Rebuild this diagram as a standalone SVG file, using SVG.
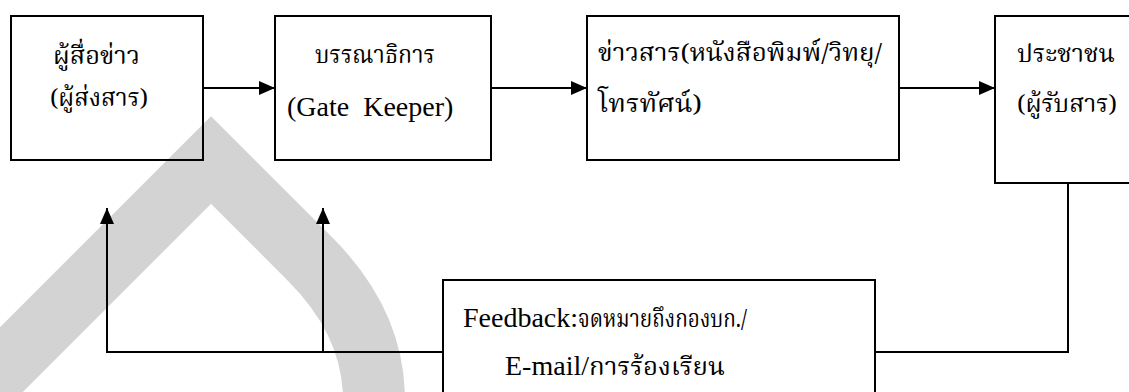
<svg xmlns="http://www.w3.org/2000/svg" width="1129" height="392" viewBox="0 0 1129 392">
<style>
.box{fill:none;stroke:#000;stroke-width:2}
.ln{fill:none;stroke:#000;stroke-width:2}
.t{font-family:"Noto Serif Thai","Noto Sans Thai","Liberation Serif",serif;font-size:24px;fill:#000}
.l{font-family:"Liberation Serif",serif;font-size:28px;fill:#000}
</style>
<defs>
<marker id="ah" markerWidth="16" markerHeight="14" refX="16" refY="7" orient="auto" markerUnits="userSpaceOnUse">
<path d="M0,0 L16,7 L0,14 Z" fill="#000"/>
</marker>
</defs>
<rect width="1129" height="392" fill="#fff"/>
<path id="watermark" d="M-40,411 L211,160 L310,259 Q374,323 374,400" fill="none" stroke="#d3d3d3" stroke-width="62" stroke-linejoin="miter" stroke-miterlimit="10"/>
<g id="connectors">
<line class="ln" x1="203" y1="88" x2="275" y2="88" marker-end="url(#ah)"/>
<line class="ln" x1="491" y1="88" x2="587" y2="88" marker-end="url(#ah)"/>
<line class="ln" x1="899" y1="88" x2="995" y2="88" marker-end="url(#ah)"/>
<polyline class="ln" points="1068,183 1068,352 875,352"/>
<polyline class="ln" points="443,352 107,352 107,208" marker-end="url(#ah)"/>
<line class="ln" x1="323" y1="352" x2="323" y2="208" marker-end="url(#ah)"/>
</g>
<g id="n1">
<rect class="box" x="11" y="16" width="192" height="144"/>
<text class="t" x="53" y="64" textLength="87" lengthAdjust="spacingAndGlyphs">ผู้สื่อข่าว</text>
<text class="t" x="50" y="106" textLength="98" lengthAdjust="spacingAndGlyphs">(ผู้ส่งสาร)</text>
</g>
<g id="n2">
<rect class="box" x="275" y="16" width="216" height="144"/>
<text class="t" x="315" y="63" textLength="120" lengthAdjust="spacingAndGlyphs">บรรณาธิการ</text>
<text class="l" x="287" y="116" xml:space="preserve">(Gate  Keeper)</text>
</g>
<g id="n3">
<rect class="box" x="587" y="16" width="312" height="144"/>
<text class="t" x="598" y="61" textLength="284" lengthAdjust="spacingAndGlyphs">ข่าวสาร(หนังสือพิมพ์/วิทยุ/</text>
<text class="t" x="598" y="112" textLength="104" lengthAdjust="spacingAndGlyphs">โทรทัศน์)</text>
</g>
<g id="n4">
<rect class="box" x="995" y="16" width="140" height="167"/>
<text class="t" x="1017" y="62" textLength="98" lengthAdjust="spacingAndGlyphs">ประชาชน</text>
<text class="t" x="1017" y="112" textLength="100" lengthAdjust="spacingAndGlyphs">(ผู้รับสาร)</text>
</g>
<g id="n5">
<rect class="box" x="443" y="280" width="432" height="120"/>
<text class="l" x="463" y="327">Feedback:</text>
<text class="t" x="578" y="327" textLength="169" lengthAdjust="spacingAndGlyphs">จดหมายถึงกองบก./</text>
<text class="l" x="505" y="375">E-mail/</text>
<text class="t" x="589" y="375" textLength="136" lengthAdjust="spacingAndGlyphs">การร้องเรียน</text>
</g>
</svg>
